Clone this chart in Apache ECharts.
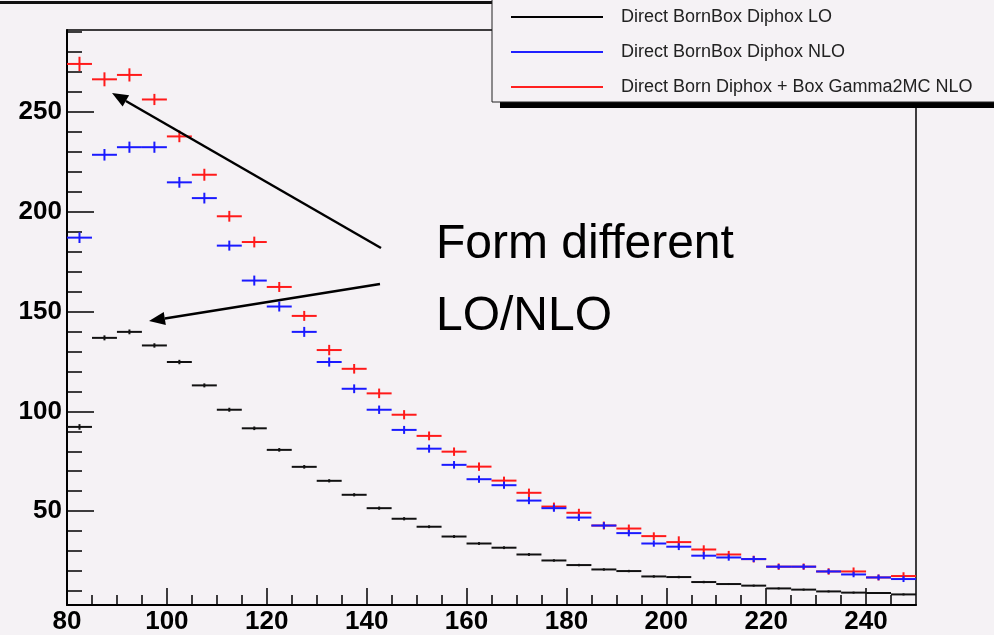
<!DOCTYPE html>
<html>
<head>
<meta charset="utf-8">
<script src="https://cdn.jsdelivr.net/npm/echarts@6/dist/echarts.min.js"></script>
<style>
html, body { margin: 0; padding: 0; background: #f5f2f5; }
#main { width: 994px; height: 635px; }
</style>
</head>
<body>
<div id="main"></div>
<script>
var binEdges = [80, 85, 90, 95, 100, 105, 110, 115, 120, 125, 130, 135, 140, 145, 150, 155, 160, 165,
	170, 175, 180, 185, 190, 195, 200, 205, 210, 215, 220, 225, 230, 235, 240, 245, 250];

var loValues = [92.2, 136.8, 139.8, 133, 124.7, 113, 100.8, 91.5, 80.7, 72.2, 65.2, 58.2, 51.5, 46.2, 42.2, 37.3, 33.8,
	31.7, 28.3, 25.3, 23, 20.8, 20, 17.3, 17, 14.5, 13.5, 12.7, 11.3, 10.7, 9.8, 9.2, 9, 8.3];
var loErrors = [1.4, 1.25, 1.2, 1.1, 1.1, 1.0, 1.0, 0.9, 0.9, 0.9, 0.8, 0.8, 0.8, 0.8, 0.7, 0.7, 0.7,
	0.7, 0.7, 0.6, 0.6, 0.6, 0.6, 0.6, 0.6, 0.6, 0.5, 0.5, 0.5, 0.5, 0.5, 0.5, 0.5, 0.5];

var nloValues = [187, 228.5, 232.3, 232.3, 214.7, 206.8, 183, 165.5, 152.5, 139.8, 124.7, 111.3, 100.8, 90.7, 81.3, 73.2, 66,
	63, 55.3, 51.5, 46.8, 42.8, 39, 33.8, 32.2, 27.7, 26.8, 26, 22.2, 22.2, 19.8, 18.3, 16.8, 16];
var nloErrors = [2.7, 2.9, 2.8, 2.8, 2.7, 2.7, 2.5, 2.5, 2.5, 2.5, 2.3, 2.2, 2.1, 2.0, 2.0, 1.9, 1.8,
	1.8, 1.8, 1.8, 1.7, 1.7, 1.6, 1.6, 1.7, 1.8, 1.6, 1.5, 1.25, 1.3, 1.3, 1.4, 1.4, 1.5];

var boxValues = [274, 266.3, 268.5, 256.2, 237.7, 218.5, 197.7, 184.8, 162.3, 147.8, 130.7, 121.3, 109, 98.3, 87.7, 79.8, 72.3,
	65.3, 59.2, 52.3, 49.2, 42.8, 41.3, 37.5, 34.5, 30.8, 28.3, 26, 22.2, 22.2, 19.8, 19.8, 16.8, 17.5];
var boxErrors = [3.6, 3.5, 3.3, 2.8, 2.9, 3.0, 2.7, 2.7, 2.5, 2.5, 2.6, 2.4, 2.4, 2.3, 2.2, 2.1, 2.1,
	2.0, 2.1, 2.0, 2.0, 2.0, 2.0, 1.9, 2.9, 2.1, 1.8, 1.7, 1.6, 1.6, 1.6, 2.0, 1.5, 1.9];

var seriesNames = ["Direct BornBox Diphox LO", "Direct BornBox Diphox NLO", "Direct Born Diphox + Box Gamma2MC NLO"];

var xMajorTicks = [80, 100, 120, 140, 160, 180, 200, 220, 240];
var xMinorTicks = [85, 90, 95, 105, 110, 115, 125, 130, 135, 145, 150, 155, 165, 170, 175, 185, 190, 195,
	205, 210, 215, 225, 230, 235, 245];
var yMajorTicks = [50, 100, 150, 200, 250];
var yMinorTicks = [10, 20, 30, 40, 60, 70, 80, 90, 110, 120, 130, 140, 160, 170, 180, 190, 210, 220, 230, 240, 260, 270, 280, 290];

var bg = "#f5f2f5";
var font = "'Liberation Sans', Arial, Helvetica, sans-serif";

function histData(values, errors) {
	var out = [];
	for (var i = 0; i < values.length; i++) {
		out.push([binEdges[i], binEdges[i + 1], values[i], errors[i]]);
	}
	return out;
}

function histRender(color, width) {
	return function (params, api) {
		var x0 = api.value(0), x1 = api.value(1), y = api.value(2), e = api.value(3);
		var xc = (x0 + x1) / 2;
		var a = api.coord([x0, y]);
		var b = api.coord([x1, y]);
		var top = api.coord([xc, y + e]);
		var bot = api.coord([xc, y - e]);
		return {
			type: "group",
			children: [
				{ type: "line", shape: { x1: a[0], y1: a[1], x2: b[0], y2: b[1] }, style: { stroke: color, lineWidth: width } },
				{ type: "line", shape: { x1: top[0], y1: top[1], x2: bot[0], y2: bot[1] }, style: { stroke: color, lineWidth: width } }
			]
		};
	};
}

function arrow(x0, y0, x1, y1) {
	var dx = x1 - x0, dy = y1 - y0;
	var len = Math.sqrt(dx * dx + dy * dy);
	var ux = dx / len, uy = dy / len;
	var hl = 16, hw = 6.5;
	var bx = x1 - ux * hl, by = y1 - uy * hl;
	return [
		{ type: "line", z: 6, shape: { x1: x0, y1: y0, x2: bx, y2: by }, style: { stroke: "#000", lineWidth: 2.5 } },
		{ type: "polygon", z: 6, shape: { points: [[x1, y1], [bx - uy * hw, by + ux * hw], [bx + uy * hw, by - ux * hw]] }, style: { fill: "#000" } }
	];
}

var chart = echarts.init(document.getElementById("main"));

var axisText = { color: "#000", fontSize: 26, fontWeight: "bold", fontFamily: font };

var option = {
	backgroundColor: bg,
	animation: false,
	grid: { left: 67, right: 78, top: 30, bottom: 29 },
	legend: {
		orient: "vertical",
		left: 511,
		top: 8,
		padding: 0,
		z: 10,
		itemWidth: 92,
		itemHeight: 2,
		itemGap: 17,
		icon: "rect",
		data: seriesNames,
		textStyle: { color: "#222", fontSize: 18, lineHeight: 16, fontFamily: font, padding: [0, 0, 0, 13] }
	},
	xAxis: [
		{
			type: "value", min: 80, max: 250, position: "bottom",
			axisLine: { lineStyle: { color: "#000", width: 2 } },
			axisTick: { inside: true, length: 17, customValues: xMajorTicks, lineStyle: { color: "#000", width: 1.5 } },
			axisLabel: Object.assign({ margin: 4, customValues: xMajorTicks }, axisText),
			splitLine: { show: false }
		},
		{
			type: "value", min: 80, max: 250, position: "bottom",
			axisLine: { show: false },
			axisTick: { inside: true, length: 10, customValues: xMinorTicks, lineStyle: { color: "#000", width: 1.5 } },
			axisLabel: { show: false },
			splitLine: { show: false }
		},
		{
			type: "value", min: 80, max: 250, position: "top",
			axisLine: { lineStyle: { color: "#000", width: 1.5 } },
			axisTick: { show: false },
			axisLabel: { show: false },
			splitLine: { show: false }
		}
	],
	yAxis: [
		{
			type: "value", min: 3, max: 291, position: "left",
			axisLine: { lineStyle: { color: "#000", width: 2 } },
			axisTick: { inside: true, length: 27, customValues: yMajorTicks, lineStyle: { color: "#000", width: 1.5 } },
			axisLabel: Object.assign({ margin: 5, customValues: yMajorTicks, padding: [5, 0, 0, 0] }, axisText),
			splitLine: { show: false }
		},
		{
			type: "value", min: 3, max: 291, position: "left",
			axisLine: { show: false },
			axisTick: { inside: true, length: 15, customValues: yMinorTicks, lineStyle: { color: "#000", width: 1.5 } },
			axisLabel: { show: false },
			splitLine: { show: false }
		},
		{
			type: "value", min: 3, max: 291, position: "right",
			axisLine: { lineStyle: { color: "#000", width: 1.5 } },
			axisTick: { show: false },
			axisLabel: { show: false },
			splitLine: { show: false }
		}
	],
	series: [
		{
			name: seriesNames[0], type: "custom", clip: true,
			itemStyle: { color: "#000" },
			renderItem: histRender("#111", 2),
			data: histData(loValues, loErrors)
		},
		{
			name: seriesNames[2], type: "custom", clip: true,
			itemStyle: { color: "#ff2020" },
			renderItem: histRender("#ff1a1a", 2),
			data: histData(boxValues, boxErrors)
		},
		{
			name: seriesNames[1], type: "custom", clip: true,
			itemStyle: { color: "#2020ff" },
			renderItem: histRender("#1a1aff", 2),
			data: histData(nloValues, nloErrors)
		}
	],
	graphic: [
		// title pave shadow along the top edge
		{ type: "rect", z: 3, shape: { x: 0, y: 1, width: 715, height: 3 }, style: { fill: "#111" } },
		// legend pave: shadow then box
		{ type: "rect", z: 3, shape: { x: 500, y: 102, width: 500, height: 6 }, style: { fill: "#000" } },
		{ type: "rect", z: 3, shape: { x: 492, y: -5, width: 510, height: 107 }, style: { fill: bg, stroke: "#222", lineWidth: 1 } },
		{ type: "text", z: 6, left: 436, top: 221, style: { text: "Form different", fill: "#000", font: "48px " + font } },
		{ type: "text", z: 6, left: 436, top: 293, style: { text: "LO/NLO", fill: "#000", font: "48px " + font } }
	].concat(arrow(381, 248, 112, 93)).concat(arrow(380, 284, 149, 321))
};

chart.setOption(option);
</script>
</body>
</html>
